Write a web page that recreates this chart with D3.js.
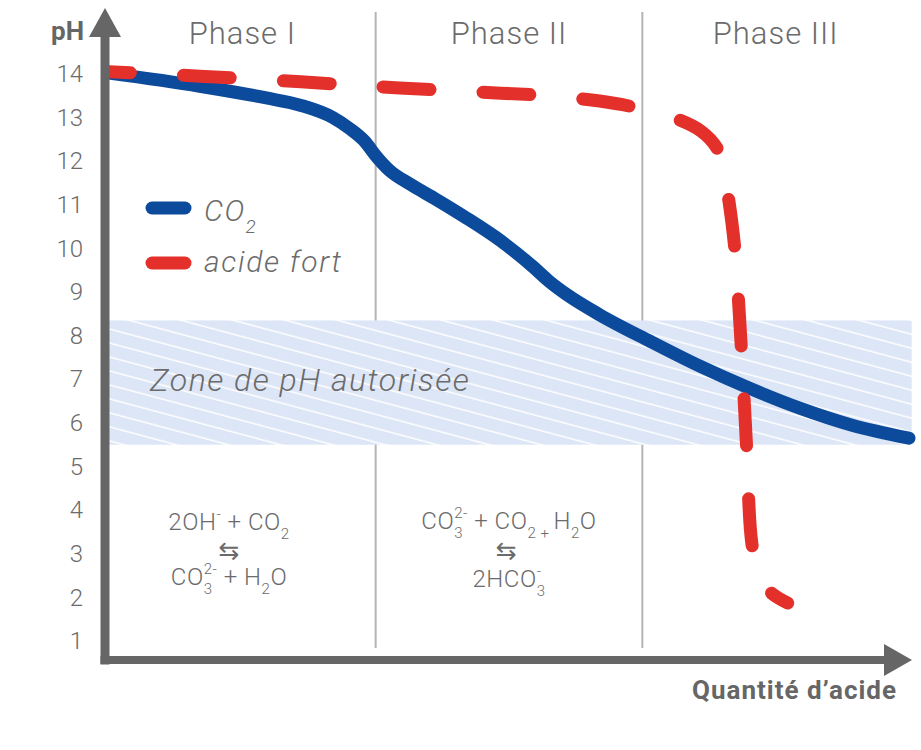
<!DOCTYPE html>
<html>
<head>
<meta charset="utf-8">
<script src="https://cdn.jsdelivr.net/npm/d3@7"></script>
<style>
  html, body { margin: 0; padding: 0; background: #fff; }
  svg { display: block; font-family: Roboto, "Liberation Sans", sans-serif; }
</style>
</head>
<body>
<div id="chart"></div>
<script>
// values (x = quantité d'acide, arbitrary units 0-30)
const co2X  = [0, 3.4, 5.9, 7.2, 8.4, 9.0, 9.6, 10.0, 10.5, 11.3, 12.2, 13.4, 14.7, 15.9, 16.5, 17.2, 18.4, 20.3, 22.2, 24.0, 25.9, 27.8, 30.0];
const co2PH = [14.02, 13.72, 13.45, 13.28, 13.0, 12.76, 12.45, 12.13, 11.8, 11.47, 11.15, 10.70, 10.17, 9.58, 9.25, 8.93, 8.48, 7.87, 7.29, 6.80, 6.34, 5.96, 5.65];

const acidX  = [0, 3.4, 7.2, 10.9, 14.7, 16.5, 18.4, 19.7, 21.2, 22.2, 22.8, 23.05, 23.2, 23.45, 23.7, 23.9, 24.1, 24.35, 24.8, 25.45];
const acidPH = [14.05, 13.95, 13.82, 13.68, 13.56, 13.50, 13.38, 13.24, 12.99, 12.69, 12.30, 11.85, 11.29, 10.10, 7.85, 5.56, 3.27, 2.51, 2.12, 1.87];

const yTicks = [1, 2, 3, 4, 5, 6, 7, 8, 9, 10, 11, 12, 13, 14];
const phaseBounds = [10, 20];
const phaseNames = ["Phase I", "Phase II", "Phase III"];
const phaseCenters = [5, 15, 25];
const zonePH = [5.5, 8.35];
const zoneX = [0, 30.1];
const zoneLabel = "Zone de pH autorisée";
const seriesNames = ["CO", "acide fort"];

// reaction equations: [text, position]  ("sub" / "sup" / normal, "back" = stacked over previous)
const eqPhase1a = [["2OH"], ["-", "sup"], [" + CO"], ["2", "sub"]];
const eqPhase1b = [["CO"], ["3", "sub"], ["2-", "sup", "back"], [" + H"], ["2", "sub"], ["O"]];
const eqPhase2a = [["CO"], ["3", "sub"], ["2-", "sup", "back"], [" + CO"], ["2 + ", "sub"], ["H"], ["2", "sub"], ["O"]];
const eqPhase2b = [["2HCO"], ["3", "sub"], ["-", "sup", "back"]];

const width = 921, height = 750;
const grey = "#666666", textGrey = "#6b6b6b";
const blue = "#0c4a9c", red = "#e4302a";

const x = d3.scaleLinear().domain([0, 30]).range([109, 909]);
const y = d3.scaleLinear().domain([1, 14]).range([641, 74]);

const axisX = 105, axisY = 660, axisTop = 8, axisRight = 912;

const svg = d3.select("#chart").append("svg")
    .attr("width", width)
    .attr("height", height);

// hatch for allowed zone
const defs = svg.append("defs");
const pat = defs.append("pattern")
    .attr("id", "hatch")
    .attr("patternUnits", "userSpaceOnUse")
    .attr("width", 40).attr("height", 13.5)
    .attr("patternTransform", "rotate(15)");
pat.append("rect").attr("width", 40).attr("height", 13.5).attr("fill", "#dde6f6");
pat.append("line").attr("x1", 0).attr("x2", 40).attr("y1", 6).attr("y2", 6)
    .attr("stroke", "#fff").attr("stroke-width", 1.6);

// phase dividers
svg.selectAll("line.divider")
    .data(phaseBounds)
    .join("line")
    .attr("class", "divider")
    .attr("x1", d => x(d)).attr("x2", d => x(d))
    .attr("y1", 12).attr("y2", 648)
    .attr("stroke", "#b4b4b4")
    .attr("stroke-width", 2);

// phase titles
svg.selectAll("text.phase")
    .data(phaseNames)
    .join("text")
    .attr("class", "phase")
    .attr("x", (d, i) => x(phaseCenters[i]))
    .attr("y", 44)
    .attr("text-anchor", "middle")
    .attr("fill", textGrey)
    .style("font-size", "31px")
    .style("font-weight", 300)
    .style("letter-spacing", "1px")
    .text(d => d);

// allowed zone
svg.append("rect")
    .attr("x", x(zoneX[0]))
    .attr("y", y(zonePH[1]))
    .attr("width", x(zoneX[1]) - x(zoneX[0]))
    .attr("height", y(zonePH[0]) - y(zonePH[1]))
    .attr("fill", "url(#hatch)");

svg.append("text")
    .attr("x", 150).attr("y", 391)
    .attr("fill", textGrey)
    .style("font-size", "32px")
    .style("font-style", "italic")
    .style("font-weight", 300)
    .style("letter-spacing", "1.5px")
    .text(zoneLabel);

// equations
function eq(parent, cx, cy, parts) {
    const t = parent.append("text")
        .attr("x", cx).attr("y", cy)
        .attr("text-anchor", "middle")
        .attr("fill", textGrey)
        .style("font-size", "24px")
        .style("font-weight", 300)
        .style("letter-spacing", "0.5px");
    let cur = 0, prevW = 0;
    parts.forEach(([txt, pos, back]) => {
        const target = pos === "sub" ? 9 : pos === "sup" ? -11 : 0;
        const s = t.append("tspan").text(txt);
        if (target !== cur) s.attr("dy", target - cur);
        cur = target;
        if (pos) s.style("font-size", "15px");
        if (back) s.attr("dx", -prevW);
        prevW = s.node().getComputedTextLength();
    });
    return t;
}
function arrow(parent, cx, cy) {
    parent.append("text")
        .attr("x", cx).attr("y", cy)
        .attr("text-anchor", "middle")
        .attr("fill", textGrey)
        .style("font-family", "'DejaVu Sans'")
        .style("font-size", "25px")
        .text("\u21C6");
}
const g = svg.append("g");
eq(g, x(4.5), 530, eqPhase1a);
arrow(g, x(4.5), 559);
eq(g, x(4.5), 585, eqPhase1b);

eq(g, x(15), 529, eqPhase2a);
arrow(g, x(14.9), 559);
eq(g, x(15), 587, eqPhase2b);

// curves
const smooth = d3.line()
    .x(d => x(d[0]))
    .y(d => y(d[1]))
    .curve(d3.curveMonotoneX);
const bend = d3.line()
    .x(d => x(d[0]))
    .y(d => y(d[1]))
    .curve(d3.curveCatmullRom.alpha(0.5));

svg.append("path")
    .datum(co2X.map((v, i) => [v, co2PH[i]]))
    .attr("d", smooth)
    .attr("fill", "none")
    .attr("stroke", blue)
    .attr("stroke-width", 13)
    .attr("stroke-linecap", "round");

svg.append("path")
    .datum(acidX.map((v, i) => [v, acidPH[i]]))
    .attr("d", bend)
    .attr("fill", "none")
    .attr("stroke", red)
    .attr("stroke-width", 13)
    .attr("stroke-linecap", "round")
    .attr("stroke-dasharray", "47 53")
    .attr("stroke-dashoffset", 25.5);

// legend
const legend = svg.append("g");
[blue, red].forEach((c, i) => {
    const ly = 208 + i * 55;
    legend.append("line")
        .attr("x1", 152).attr("x2", 185)
        .attr("y1", ly).attr("y2", ly)
        .attr("stroke", c).attr("stroke-width", 13)
        .attr("stroke-linecap", "round");
});
const l1 = legend.append("text")
    .attr("x", 204).attr("y", 221)
    .attr("fill", textGrey)
    .style("font-size", "30px").style("font-style", "italic").style("font-weight", 300)
    .style("letter-spacing", "1.5px");
l1.append("tspan").text(seriesNames[0]);
l1.append("tspan").attr("dy", 12).style("font-size", "19px").text("2");
legend.append("text")
    .attr("x", 204).attr("y", 272)
    .attr("fill", textGrey)
    .style("font-size", "30px").style("font-style", "italic").style("font-weight", 300)
    .style("letter-spacing", "1.7px")
    .text(seriesNames[1]);

// axes
const yAxis = svg.append("g")
    .attr("transform", `translate(${axisX},0)`)
    .call(d3.axisLeft(y).tickValues(yTicks).tickSize(0).tickPadding(22));
yAxis.select(".domain").remove();
yAxis.selectAll("text")
    .attr("fill", textGrey)
    .style("font-family", "Roboto, sans-serif")
    .style("font-size", "24px")
    .style("font-weight", 300);

svg.append("line")
    .attr("x1", axisX).attr("x2", axisX)
    .attr("y1", axisTop + 25).attr("y2", axisY + 4.5)
    .attr("stroke", grey).attr("stroke-width", 9);
svg.append("line")
    .attr("x1", axisX - 4.5).attr("x2", axisRight - 25)
    .attr("y1", axisY).attr("y2", axisY)
    .attr("stroke", grey).attr("stroke-width", 8);
svg.append("path")
    .attr("d", `M${axisX},${axisTop} L${axisX + 16},${axisTop + 29} L${axisX - 16},${axisTop + 29} Z`)
    .attr("fill", grey);
svg.append("path")
    .attr("d", `M${axisRight},${axisY} L${axisRight - 28},${axisY - 16} L${axisRight - 28},${axisY + 16} Z`)
    .attr("fill", grey);

svg.append("text")
    .attr("x", 84).attr("y", 40)
    .attr("text-anchor", "end")
    .attr("fill", grey)
    .style("font-size", "26px").style("font-weight", 700)
    .text("pH");

svg.append("text")
    .attr("x", 897).attr("y", 699)
    .attr("text-anchor", "end")
    .attr("fill", grey)
    .style("font-size", "26px").style("font-weight", 700)
    .style("letter-spacing", "1px")
    .text("Quantité d\u2019acide");
</script>
</body>
</html>
